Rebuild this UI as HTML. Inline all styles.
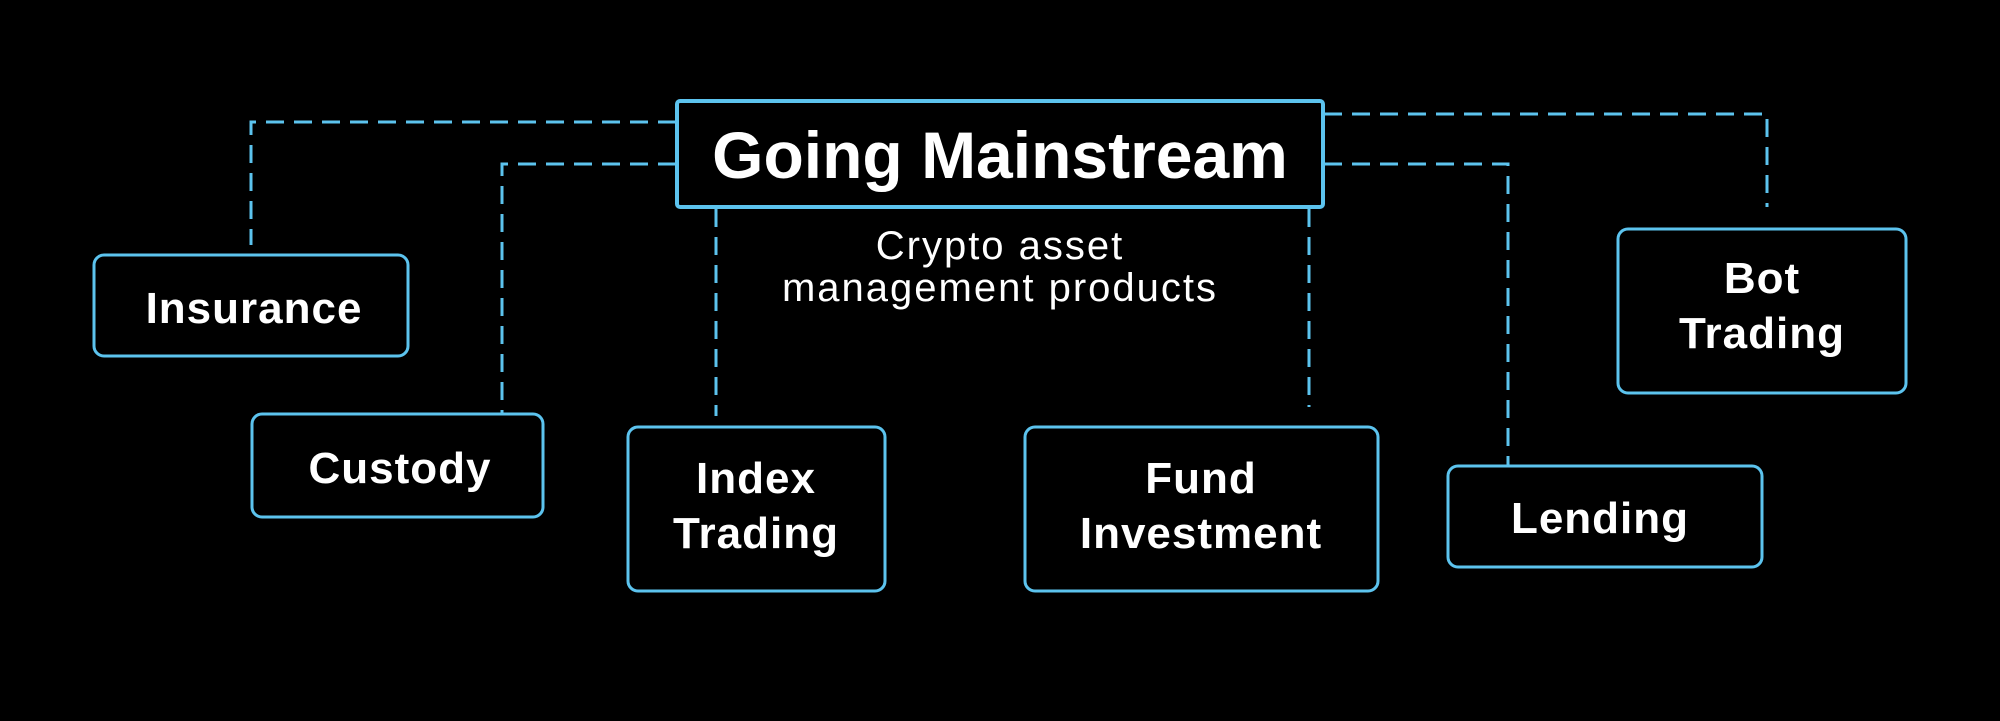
<!DOCTYPE html>
<html><head><meta charset="utf-8"><style>
html,body{margin:0;padding:0;background:#000;}
svg{display:block}
text{font-family:"Liberation Sans",sans-serif;fill:#fff;}
</style></head><body>
<svg width="2000" height="721" viewBox="0 0 2000 721" xmlns="http://www.w3.org/2000/svg">
<rect width="2000" height="721" fill="#000"/>
<g stroke="#5cc3ee" stroke-width="3" fill="none" stroke-dasharray="18 10">
<path d="M676 122 H251 V245"/>
<path d="M676 164 H502 V413"/>
<path d="M716 209 V416"/>
<path d="M1309 209 V407"/>
<path d="M1324 164 H1508 V465"/>
<path d="M1324 114 H1767 V207"/>
</g>
<g stroke="#5cc3ee" stroke-width="3" fill="#000">
<rect x="94" y="255" width="314" height="101" rx="10"/>
<rect x="252" y="414" width="291" height="103" rx="10"/>
<rect x="628" y="427" width="257" height="164" rx="10"/>
<rect x="1025" y="427" width="353" height="164" rx="10"/>
<rect x="1448" y="466" width="314" height="101" rx="10"/>
<rect x="1618" y="229" width="288" height="164" rx="10"/>
</g>
<rect x="677" y="101" width="646" height="106" rx="3" fill="#000" stroke="#5cc3ee" stroke-width="4"/>
<text x="1000" y="178" font-size="66" font-weight="bold" text-anchor="middle">Going Mainstream</text>
<text x="1000" y="259" font-size="40" letter-spacing="2" text-anchor="middle">Crypto asset</text>
<text x="1000" y="301" font-size="40" letter-spacing="2" text-anchor="middle">management products</text>
<g font-size="44" font-weight="bold" letter-spacing="1" text-anchor="middle">
<text x="254" y="323">Insurance</text>
<text x="400" y="483">Custody</text>
<text x="756" y="493">Index</text>
<text x="756" y="548">Trading</text>
<text x="1201" y="493">Fund</text>
<text x="1201" y="548">Investment</text>
<text x="1600" y="533">Lending</text>
<text x="1762" y="293">Bot</text>
<text x="1762" y="348">Trading</text>
</g>
</svg>
</body></html>
